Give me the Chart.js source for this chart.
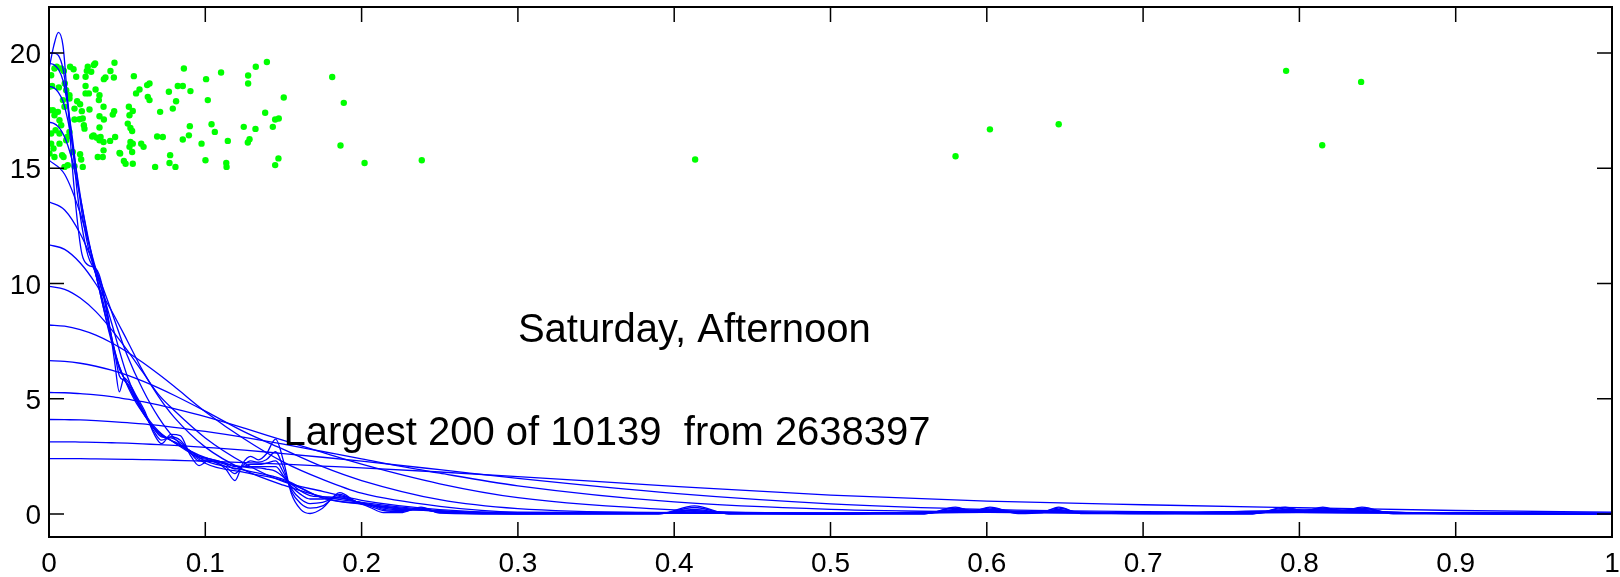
<!DOCTYPE html>
<html>
<head>
<meta charset="utf-8">
<script src="https://cdn.jsdelivr.net/npm/chart.js@4/dist/chart.umd.min.js"></script>
<style>
  html, body { margin: 0; padding: 0; background: #fff; }
  canvas { display: block; }
</style>
</head>
<body>
<canvas id="chart" width="1620" height="577"></canvas>
<script>
// axis ticks
const xTicks = [0, 0.1, 0.2, 0.3, 0.4, 0.5, 0.6, 0.7, 0.8, 0.9, 1];
const xTickLabels = ['0', '0.1', '0.2', '0.3', '0.4', '0.5', '0.6', '0.7', '0.8', '0.9', '1'];
const yTicks = [0, 5, 10, 15, 20];
const yTickLabels = ['0', '5', '10', '15', '20'];

// green points (largest 200)
const ptsX = [0.0135, 0.0157, 0.0248, 0.0242, 0.0287, 0.0295, 0.0419, 0.0393, 0.0361, 0.0415,
  0.0351, 0.0234, 0.0270, 0.0174, 0.0014, 0.0035, 0.0050, 0.0078, 0.0095, 0.0003,
  0.0020, 0.0063, 0.0101, 0.0110, 0.0131, 0.0234, 0.0255, 0.0234, 0.0298, 0.0323,
  0.0319, 0.0180, 0.0199, 0.0163, 0.0210, 0.0259, 0.0216, 0.0195, 0.0163, 0.0349,
  0.0323, 0.0351, 0.0408, 0.0323, 0.0227, 0.0223, 0.0025, 0.0003, 0.0035, 0.0057,
  0.0089, 0.0131, 0.0099, 0.0067, 0.0078, 0.0042, 0.0014, 0.0067, 0.0131, 0.0110,
  0.0116, 0.0067, 0.0014, 0.0029, 0.0003, 0.0084, 0.0093, 0.0035, 0.0152, 0.0199,
  0.0206, 0.0163, 0.0120, 0.0099, 0.0216, 0.0312, 0.0349, 0.0344, 0.0285, 0.0306,
  0.0330, 0.0323, 0.0276, 0.0423, 0.0391, 0.0349, 0.0417, 0.0511, 0.0536, 0.0515,
  0.0504, 0.0521, 0.0532, 0.0521, 0.0515, 0.0536, 0.0590, 0.0605, 0.0532, 0.0451,
  0.0479, 0.0490, 0.0536, 0.0455, 0.0543, 0.0557, 0.0579, 0.0632, 0.0643, 0.0628,
  0.0643, 0.0711, 0.0692, 0.0728, 0.0767, 0.0813, 0.0792, 0.0824, 0.0856, 0.0905,
  0.0863, 0.0775, 0.0771, 0.0809, 0.0679, 0.0856, 0.0895, 0.0901, 0.0976, 0.1005,
  0.1016, 0.1040, 0.1061, 0.1001, 0.1144, 0.1134, 0.1136, 0.1101, 0.1274, 0.1274,
  0.1323, 0.1394, 0.1246, 0.1321, 0.1383, 0.1447, 0.1470, 0.1432, 0.1283, 0.1272,
  0.1447, 0.1468, 0.1502, 0.1812, 0.1886, 0.1865, 0.2019, 0.2385, 0.4134, 0.5800,
  0.6020, 0.6460, 0.7915, 0.8146, 0.8395];
const ptsY = [19.41, 19.30, 19.41, 19.23, 19.48, 19.55, 19.58, 19.22, 18.94, 18.94,
  18.87, 18.97, 19.19, 18.97, 19.04, 19.33, 19.41, 19.33, 19.22, 18.54,
  18.57, 18.51, 18.68, 18.39, 18.17, 18.57, 18.25, 18.25, 18.42, 18.17,
  17.96, 17.91, 17.78, 17.59, 17.48, 17.55, 17.16, 17.13, 17.12, 17.67,
  17.26, 17.12, 17.33, 16.77, 16.72, 16.87, 17.52, 17.52, 17.30, 17.45,
  17.96, 18.03, 17.67, 17.09, 16.87, 16.65, 16.51, 16.51, 16.58, 16.22,
  16.36, 16.07, 16.07, 15.86, 15.64, 15.57, 15.49, 15.49, 15.71, 15.61,
  15.38, 15.09, 15.13, 15.06, 15.06, 15.49, 15.78, 15.49, 16.43, 16.33,
  16.36, 16.22, 16.38, 16.36, 16.19, 16.14, 17.48, 17.67, 17.49, 17.30,
  16.94, 16.75, 16.62, 16.14, 15.93, 16.07, 16.07, 15.93, 15.71, 15.67,
  15.32, 15.20, 15.20, 15.64, 19.00, 18.25, 18.42, 18.10, 17.96, 18.61,
  18.68, 17.45, 16.38, 16.36, 18.32, 17.91, 17.59, 18.57, 18.57, 18.35,
  19.33, 15.57, 15.23, 15.06, 15.06, 16.25, 16.43, 16.83, 16.07, 18.87,
  17.96, 16.91, 16.58, 15.35, 16.19, 15.23, 15.06, 19.16, 19.03, 18.68,
  19.41, 19.61, 16.80, 16.71, 17.41, 17.12, 17.16, 16.80, 16.26, 16.12,
  15.14, 15.43, 18.07, 18.96, 17.84, 15.99, 15.23, 15.35, 15.38, 15.52,
  16.69, 16.91, 19.23, 16.00, 18.75];

// smooth density curves (wide bandwidths), sampled at smoothX
const smoothX = [0, 0.01, 0.02, 0.03, 0.04, 0.05, 0.06, 0.07, 0.08, 0.1, 0.125, 0.15, 0.175, 0.2, 0.25, 0.3, 0.4, 0.5, 0.6, 0.7, 0.8, 0.9, 1.0];
const d240 = [2.40, 2.40, 2.40, 2.39, 2.38, 2.37, 2.36, 2.35, 2.33, 2.29, 2.23, 2.16, 2.08, 2.00, 1.82, 1.62, 1.20, 0.82, 0.56, 0.40, 0.27, 0.15, 0.08];
const d313 = [3.13, 3.13, 3.12, 3.11, 3.09, 3.07, 3.04, 3.01, 2.98, 2.89, 2.77, 2.62, 2.46, 2.29, 1.92, 1.54, 0.89, 0.44, 0.20, 0.10, 0.07, 0.05, 0.04];
const d410 = [4.10, 4.09, 4.08, 4.05, 4.01, 3.96, 3.91, 3.84, 3.76, 3.58, 3.32, 3.03, 2.71, 2.39, 1.77, 1.22, 0.52, 0.20, 0.09, 0.05, 0.06, 0.04, 0.03];
const d527 = [5.27, 5.26, 5.22, 5.17, 5.09, 4.98, 4.87, 4.73, 4.57, 4.22, 3.72, 3.19, 2.67, 2.16, 1.31, 0.71, 0.18, 0.04, 0.07, 0.04, 0.07, 0.03, 0.02];
const d665 = [6.65, 6.62, 6.54, 6.41, 6.24, 6.02, 5.76, 5.47, 5.15, 4.46, 3.56, 2.80, 2.05, 1.45, 0.62, 0.23, 0.05, 0.02, 0.07, 0.03, 0.07, 0.03, 0.01];
const d820 = [8.20, 8.15, 8.00, 7.76, 7.43, 7.03, 6.57, 6.07, 5.54, 4.44, 3.25, 2.25, 1.50, 0.90, 0.33, 0.08, 0.05, 0.02, 0.08, 0.03, 0.08, 0.03, 0.01];
const d988 = [9.88, 9.75, 9.37, 8.78, 8.00, 7.11, 6.15, 5.19, 4.50, 3.30, 2.20, 1.40, 0.98, 0.59, 0.19, 0.05, 0.04, 0.01, 0.09, 0.03, 0.10, 0.04, 0.01];
const d1168 = [11.68, 11.48, 10.89, 9.98, 8.82, 7.53, 6.21, 5.10, 4.20, 2.90, 1.90, 1.25, 0.75, 0.50, 0.14, 0.04, 0.05, 0.01, 0.10, 0.03, 0.12, 0.03, 0.01];
const d1355 = [13.55, 13.19, 12.16, 10.62, 8.79, 6.89, 5.40, 4.20, 3.30, 2.20, 1.80, 1.45, 0.70, 0.45, 0.12, 0.02, 0.06, 0.005, 0.12, 0.03, 0.13, 0.02, 0.01];
const d1535 = [15.35, 14.74, 13.04, 10.63, 8.30, 6.00, 4.50, 3.60, 3.10, 2.30, 1.90, 1.50, 0.70, 0.42, 0.10, 0.02, 0.07, 0.0, 0.13, 0.02, 0.15, 0.02, 0.0];

// narrow, wiggly density curves, sampled at wiggleX
const wiggleX = [0, 0.003, 0.006, 0.009, 0.012, 0.015, 0.018, 0.021, 0.025, 0.029,
  0.032, 0.035, 0.038, 0.042, 0.045, 0.048, 0.052, 0.056, 0.061, 0.067,
  0.072, 0.078, 0.084, 0.09, 0.096, 0.102, 0.108, 0.113, 0.119, 0.124,
  0.129, 0.134, 0.139, 0.145, 0.15, 0.155, 0.161, 0.167, 0.175, 0.186,
  0.196, 0.205, 0.214, 0.225, 0.238, 0.25, 0.3, 0.39, 0.413, 0.435,
  0.56, 0.58, 0.591, 0.602, 0.62, 0.635, 0.646, 0.66, 0.77, 0.791,
  0.803, 0.815, 0.827, 0.84, 0.86, 1.0];
const w1 = [19.3, 20.3, 20.9, 20.3, 17.8, 15.0, 12.8, 11.3, 10.8, 10.7,
  10.4, 9.6, 8.5, 6.6, 5.3, 5.9, 5.6, 5.1, 4.5, 3.5,
  3.05, 3.45, 3.4, 2.6, 2.1, 2.3, 2.2, 1.95, 1.45, 2.2,
  2.5, 2.35, 2.6, 3.25, 2.3, 0.9, 0.2, 0.02, 0.25, 0.93,
  0.55, 0.3, 0.06, 0.06, 0.3, 0.04, 0.0, 0.0, 0.35, 0.0,
  0.0, 0.3, 0.12, 0.3, 0.02, 0.05, 0.3, 0.02, 0.0, 0.3,
  0.12, 0.3, 0.12, 0.3, 0.0, 0.0];
const w2 = [20.0, 20.0, 19.9, 19.3, 17.9, 16.0, 14.0, 12.5, 11.2, 10.6,
  10.1, 9.4, 8.4, 7.0, 6.0, 5.8, 5.5, 5.0, 4.4, 3.6,
  3.2, 3.35, 3.2, 2.7, 2.3, 2.3, 2.2, 2.05, 1.75, 2.1,
  2.3, 2.25, 2.35, 2.7, 2.0, 1.0, 0.45, 0.25, 0.35, 0.85,
  0.55, 0.35, 0.15, 0.1, 0.25, 0.06, 0.0, 0.0, 0.28, 0.01,
  0.01, 0.25, 0.15, 0.25, 0.05, 0.08, 0.25, 0.05, 0.01, 0.25,
  0.15, 0.25, 0.15, 0.25, 0.03, 0.0];
const w3 = [19.55, 19.5, 19.3, 18.8, 17.7, 16.3, 14.6, 13.1, 11.6, 10.6,
  9.9, 9.1, 8.3, 7.1, 6.3, 5.9, 5.4, 4.9, 4.3, 3.7,
  3.35, 3.3, 3.1, 2.75, 2.45, 2.35, 2.25, 2.15, 1.95, 2.05,
  2.15, 2.15, 2.2, 2.3, 1.8, 1.1, 0.65, 0.45, 0.5, 0.75,
  0.55, 0.4, 0.2, 0.15, 0.2, 0.08, 0.01, 0.02, 0.2, 0.02,
  0.02, 0.2, 0.16, 0.2, 0.08, 0.1, 0.2, 0.07, 0.02, 0.2,
  0.17, 0.21, 0.17, 0.2, 0.05, 0.0];
const w4 = [18.56, 18.5, 18.3, 17.9, 17.1, 16.0, 14.7, 13.4, 11.9, 10.7,
  9.8, 8.9, 8.1, 7.1, 6.4, 5.9, 5.4, 4.9, 4.3, 3.75,
  3.4, 3.2, 3.0, 2.75, 2.5, 2.4, 2.3, 2.2, 2.05, 2.05,
  2.05, 2.05, 2.05, 2.05, 1.65, 1.2, 0.85, 0.65, 0.65, 0.7,
  0.55, 0.4, 0.25, 0.18, 0.18, 0.1, 0.02, 0.03, 0.14, 0.03,
  0.03, 0.15, 0.15, 0.16, 0.1, 0.1, 0.15, 0.08, 0.03, 0.16,
  0.16, 0.18, 0.16, 0.15, 0.06, 0.0];
const w5 = [17.0, 16.95, 16.8, 16.5, 16.0, 15.3, 14.4, 13.4, 12.0, 10.7,
  9.8, 8.9, 8.0, 7.0, 6.4, 5.9, 5.3, 4.8, 4.3, 3.75,
  3.45, 3.2, 2.95, 2.75, 2.55, 2.4, 2.3, 2.2, 2.1, 2.05,
  2.0, 2.0, 1.95, 1.85, 1.6, 1.3, 1.0, 0.8, 0.75, 0.7,
  0.55, 0.4, 0.3, 0.2, 0.18, 0.12, 0.03, 0.04, 0.1, 0.04,
  0.04, 0.12, 0.13, 0.13, 0.1, 0.1, 0.12, 0.08, 0.04, 0.13,
  0.15, 0.16, 0.15, 0.12, 0.07, 0.0];

const notes = [
  { text: 'Saturday, Afternoon', x: 0.3, y: 7.45 },
  { text: 'Largest 200 of 10139  from 2638397', x: 0.15, y: 2.98 }
];

function curve(xs, ys) {
  return {
    data: xs.map((x, i) => ({ x: x, y: ys[i] })),
    showLine: true,
    borderColor: '#0000ff',
    borderWidth: 1.3,
    pointRadius: 0,
    fill: false,
    cubicInterpolationMode: 'monotone'
  };
}

const datasets = [];
[d240, d313, d410, d527, d665, d820, d988, d1168, d1355, d1535].forEach(ys => datasets.push(curve(smoothX, ys)));
[w5, w4, w3, w2, w1].forEach(ys => datasets.push(curve(wiggleX, ys)));
datasets.push({
  data: ptsX.map((x, i) => ({ x: x, y: ptsY[i] })),
  showLine: false,
  backgroundColor: '#00ff00',
  borderWidth: 0,
  pointRadius: 3.2
});

// matlab style box with inward ticks, plus labels and text notes
const matlabFrame = {
  id: 'matlabFrame',
  afterDatasetsDraw(chart) {
    const ctx = chart.ctx;
    const a = chart.chartArea;
    const xs = chart.scales.x, ys = chart.scales.y;
    const tick = 15;
    ctx.save();
    ctx.strokeStyle = '#000';
    ctx.lineWidth = 1.5;
    ctx.beginPath();
    xTicks.forEach(v => {
      const px = xs.getPixelForValue(v);
      ctx.moveTo(px, a.bottom); ctx.lineTo(px, a.bottom - tick);
      ctx.moveTo(px, a.top); ctx.lineTo(px, a.top + tick);
    });
    yTicks.forEach(v => {
      const py = ys.getPixelForValue(v);
      ctx.moveTo(a.left, py); ctx.lineTo(a.left + tick, py);
      ctx.moveTo(a.right, py); ctx.lineTo(a.right - tick, py);
    });
    ctx.stroke();
    ctx.lineWidth = 2;
    ctx.strokeRect(a.left, a.top, a.right - a.left, a.bottom - a.top);

    ctx.fillStyle = '#000';
    ctx.font = '28px "Liberation Sans", Arial, sans-serif';
    ctx.textBaseline = 'alphabetic';
    ctx.textAlign = 'center';
    xTicks.forEach((v, i) => ctx.fillText(xTickLabels[i], xs.getPixelForValue(v), a.bottom + 35));
    ctx.textAlign = 'right';
    yTicks.forEach((v, i) => ctx.fillText(yTickLabels[i], a.left - 8, ys.getPixelForValue(v) + 10));

    ctx.font = '40px "Liberation Sans", Arial, sans-serif';
    ctx.textAlign = 'left';
    notes.forEach(n => ctx.fillText(n.text, xs.getPixelForValue(n.x), ys.getPixelForValue(n.y)));
    ctx.restore();
  }
};

new Chart(document.getElementById('chart'), {
  type: 'scatter',
  data: { datasets: datasets },
  options: {
    responsive: false,
    devicePixelRatio: 1,
    animation: false,
    layout: { padding: { left: 49, right: 8, top: 7, bottom: 40 } },
    scales: {
      x: { type: 'linear', min: 0, max: 1, display: false },
      y: { type: 'linear', min: -1, max: 22, display: false }
    },
    plugins: {
      legend: { display: false },
      tooltip: { enabled: false }
    }
  },
  plugins: [matlabFrame]
});
</script>
</body>
</html>
